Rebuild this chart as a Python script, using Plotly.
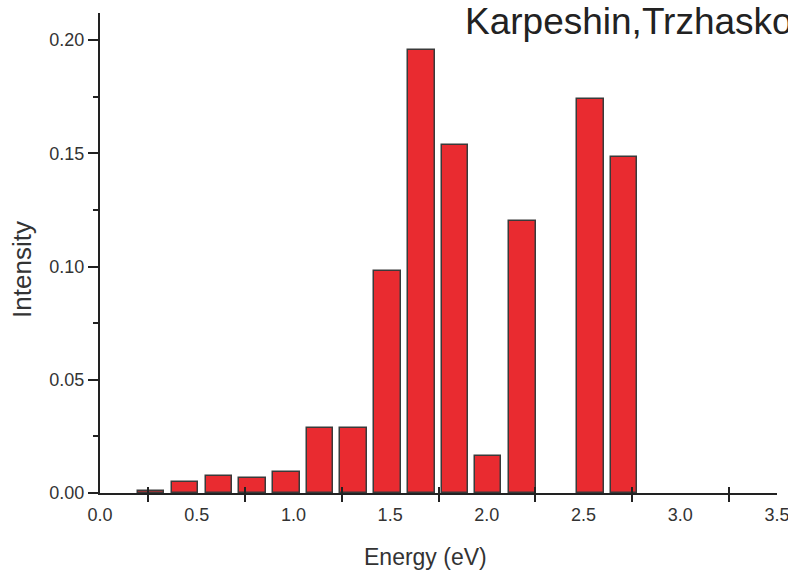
import plotly.graph_objects as go

# Data
energies = [0.263, 0.440, 0.615, 0.788, 0.964, 1.137, 1.311, 1.487, 1.662, 1.835, 2.007, 2.184, 2.536, 2.710]
intensity = [0.0010, 0.0050, 0.0077, 0.0065, 0.0093, 0.0289, 0.0289, 0.0980, 0.1956, 0.1535, 0.0165, 0.1203, 0.1738, 0.1482]

x_tick_vals = [0.0, 0.5, 1.0, 1.5, 2.0, 2.5, 3.0, 3.5]
x_tick_text = ["0.0", "0.5", "1.0", "1.5", "2.0", "2.5", "3.0", "3.5"]
x_cross_ticks = [0.25, 0.75, 1.25, 1.75, 2.25, 2.75, 3.25]
y_tick_vals = [0.0, 0.05, 0.10, 0.15, 0.20]
y_tick_text = ["0.00", "0.05", "0.10", "0.15", "0.20"]
y_minor_ticks = [0.025, 0.075, 0.125, 0.175]

SANS = "Liberation Sans, Arial, sans-serif"
AX = "#222222"
TXT = "#333333"

fig = go.Figure()
fig.add_trace(go.Bar(
    x=energies, y=intensity, width=0.137,
    marker=dict(color="#E92B30", line=dict(color="#3a3a3a", width=1.5)),
    showlegend=False,
))
# invisible trace for overlay axis carrying the inward half of the crossing ticks
fig.add_trace(go.Scatter(x=[0], y=[0], xaxis="x2", mode="markers",
                         marker=dict(opacity=0), showlegend=False, hoverinfo="skip"))

fig.update_layout(
    width=788, height=578,
    margin=dict(l=100, r=11, t=13, b=85, autoexpand=False),
    plot_bgcolor="white", paper_bgcolor="white",
    bargap=0,
    xaxis=dict(
        range=[0, 3.5], showgrid=False, zeroline=False, automargin=False,
        showline=True, linecolor=AX, linewidth=2,
        tickmode="array", tickvals=x_tick_vals, ticktext=x_tick_text,
        ticks="outside", ticklen=4, tickcolor="rgba(0,0,0,0)",
        ticklabeloverflow="allow",
        tickfont=dict(family=SANS, size=18, color=TXT),
        minor=dict(tickmode="array", tickvals=x_cross_ticks, ticks="outside",
                   ticklen=7, tickwidth=2, tickcolor=AX),
    ),
    xaxis2=dict(
        range=[0, 3.5], overlaying="x", side="bottom", anchor="y", automargin=False,
        showgrid=False, zeroline=False, showline=False,
        tickmode="array", tickvals=x_cross_ticks, ticks="inside",
        ticklen=6, tickwidth=2, tickcolor=AX, showticklabels=False,
    ),
    yaxis=dict(
        range=[0, 0.212], showgrid=False, zeroline=False, automargin=False,
        showline=True, linecolor=AX, linewidth=2,
        tickmode="array", tickvals=y_tick_vals, ticktext=y_tick_text,
        ticks="outside", ticklen=10, tickwidth=2, tickcolor=AX,
        tickfont=dict(family=SANS, size=18, color=TXT),
        minor=dict(tickmode="array", tickvals=y_minor_ticks,
                   ticks="outside", ticklen=5, tickwidth=2, tickcolor=AX),
    ),
    annotations=[
        dict(text="Karpeshin,Trzhaskovskaya", xref="paper", yref="paper",
             x=0.536, y=0.983, xanchor="left", yanchor="middle", showarrow=False,
             font=dict(family=SANS, size=37, color="#222222")),
        dict(text="Energy (eV)", xref="paper", yref="paper",
             x=0.481, y=-0.133, xanchor="center", yanchor="middle", showarrow=False,
             font=dict(family=SANS, size=23, color=TXT)),
        dict(text="Intensity", xref="paper", yref="paper", textangle=-90,
             x=-0.115, y=0.465, xanchor="center", yanchor="middle", showarrow=False,
             font=dict(family=SANS, size=26, color=TXT)),
    ],
)

fig.write_html("out.html")
